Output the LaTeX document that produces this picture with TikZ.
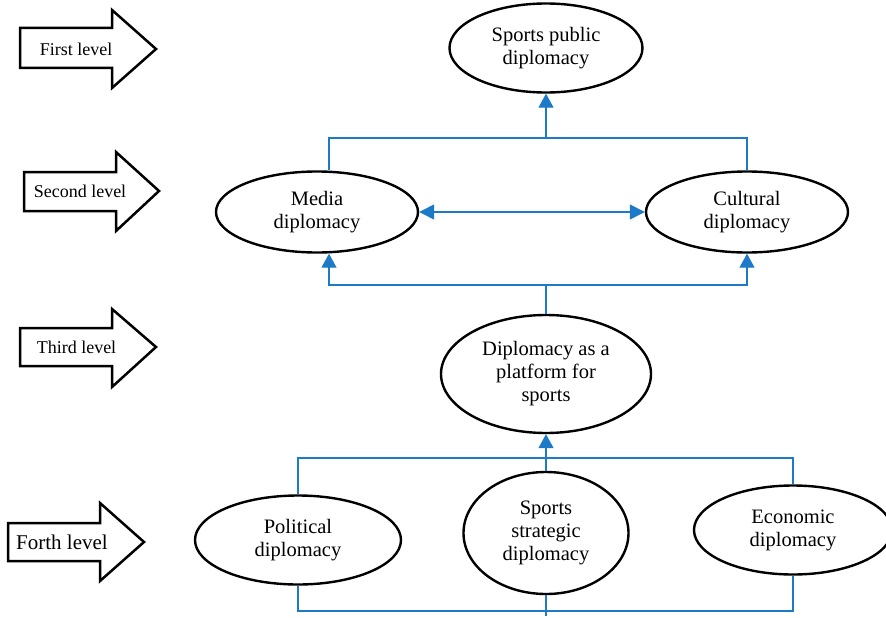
\documentclass[tikz,border=0pt]{standalone}
\usepackage{fontspec}
\setmainfont{Liberation Serif}
\usetikzlibrary{shapes.geometric,arrows.meta,calc}
\definecolor{connblue}{RGB}{28,122,200}
\begin{document}
\begin{tikzpicture}[x=1pt,y=-1pt,
  oval/.style={ellipse,draw=black,line width=2.4pt,inner sep=0pt,align=center,
    font=\fontsize{20.5}{23}\selectfont},
  lvlarrow/.style={draw=black,line width=2.5pt,fill=white,line join=miter},
  lvltext/.style={inner sep=0pt,font=\fontsize{18}{21}\selectfont},
  conn/.style={draw=connblue,line width=1.4pt},
  tip/.style={-{Triangle[width=15pt,length=14pt]}},
]
\useasboundingbox (0,0) rectangle (886,618);
\clip (0,0) rectangle (886,618);

% level arrows
\draw[lvlarrow] (20,28) -- (112,28) -- (112,10) -- (156,49) -- (112,88) -- (112,68) -- (20,68) -- cycle;
\node[lvltext] (lvl1) at (76,49) {First level};
\draw[lvlarrow] (24,172) -- (116,172) -- (116,152) -- (159,191) -- (116,231) -- (116,211) -- (24,211) -- cycle;
\node[lvltext] (lvl2) at (80,191) {Second level};
\draw[lvlarrow] (20,328) -- (112,328) -- (112,309) -- (156,347) -- (112,387) -- (112,366) -- (20,366) -- cycle;
\node[lvltext] (lvl3) at (76.5,347) {Third level};
\draw[lvlarrow] (8,523) -- (100,523) -- (100,503) -- (144,542) -- (100,581) -- (100,561) -- (8,561) -- cycle;
\node[lvltext,font=\fontsize{21}{24}\selectfont] (lvl4) at (62,542) {Forth level};

% ellipses
\node[oval,minimum width=193pt,minimum height=89pt] (spd) at (546,48) {Sports public\\diplomacy};
\node[oval,minimum width=202pt,minimum height=81pt] (media) at (317,212) {Media\\diplomacy};
\node[oval,minimum width=202pt,minimum height=81pt] (cult) at (747,212) {Cultural\\diplomacy};
\node[oval,minimum width=210pt,minimum height=118pt] (plat) at (546,374) {Diplomacy as a\\platform for\\sports};
\node[oval,minimum width=206pt,minimum height=89pt] (pol) at (298,540) {Political\\diplomacy};
\node[oval,minimum width=165pt,minimum height=122pt] (strat) at (546,533) {Sports\\strategic\\diplomacy};
\node[oval,minimum width=198pt,minimum height=89pt] (eco) at (793,530) {Economic\\diplomacy};

% junction points
\coordinate (topbar) at (546,138);
\coordinate (midbar) at (546,285);
\coordinate (lowbar) at (546,458);
\coordinate (basebar) at (546,611);
\coordinate (baseend) at (546,616);

% second -> first
\draw[conn] ($(media.north)+(12,0)$) |- (topbar) -| (cult.north);
\draw[conn,tip] (topbar) -- (spd.south);
% media <-> cultural
\draw[conn,{Triangle[width=15pt,length=15pt]}-{Triangle[width=15pt,length=15pt]}] (media.east) -- (cult.west);
% third -> second
\draw[conn] (plat.north) -- (midbar);
\draw[conn,tip] (midbar) -| ($(media.south)+(12,0)$);
\draw[conn,tip] (midbar) -| (cult.south);
% fourth -> third
\draw[conn] (pol.north) |- (lowbar) -| (eco.north);
\draw[conn] (strat.north) -- (lowbar);
\draw[conn,tip] (lowbar) -- (plat.south);
% bottom bar
\draw[conn] (pol.south) |- (basebar) -| (eco.south);
\draw[conn] (strat.south) -- (baseend);
\end{tikzpicture}
\end{document}
